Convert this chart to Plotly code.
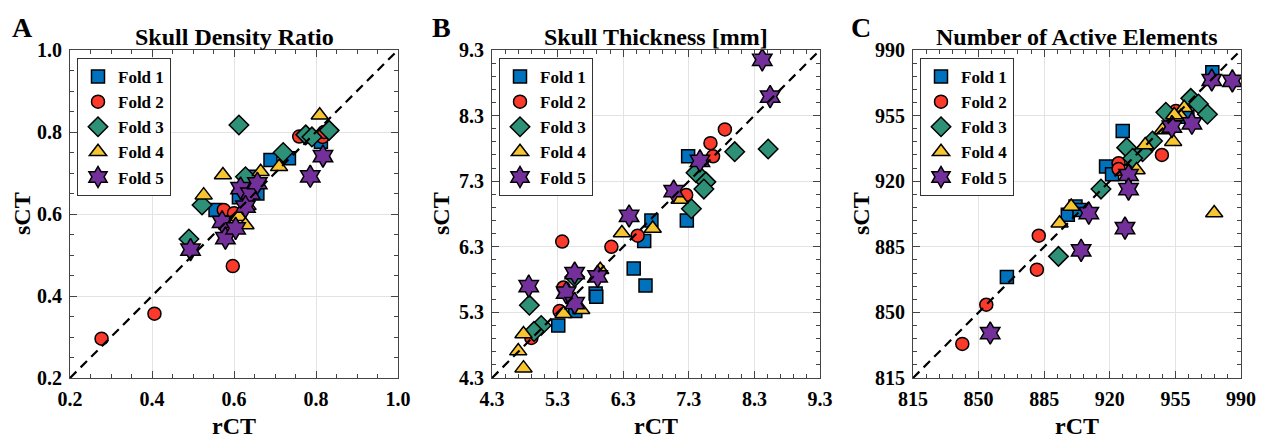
import plotly.graph_objects as go

W, H = 1270, 442
OFF = 8  # default page body margin offset

# ---------------- data ----------------
folds = ["Fold 1", "Fold 2", "Fold 3", "Fold 4", "Fold 5"]
colors = ["#0072BD", "#FB3A2C", "#2E9077", "#F7C531", "#74309A"]
symbols = ["square", "circle", "diamond", "triangle-up", "hexagram"]

# Panel A: Skull Density Ratio
sdr_f1_x = [0.555, 0.612, 0.644, 0.657, 0.689, 0.734, 0.812]
sdr_f1_y = [0.610, 0.641, 0.691, 0.650, 0.732, 0.736, 0.776]
sdr_f2_x = [0.277, 0.406, 0.597, 0.575, 0.600, 0.580, 0.759, 0.816, 0.820]
sdr_f2_y = [0.296, 0.357, 0.473, 0.610, 0.602, 0.570, 0.789, 0.788, 0.800]
sdr_f3_x = [0.612, 0.522, 0.490, 0.628, 0.720, 0.775, 0.790, 0.832]
sdr_f3_y = [0.817, 0.622, 0.539, 0.691, 0.750, 0.793, 0.788, 0.804]
sdr_f4_x = [0.809, 0.573, 0.526, 0.665, 0.710, 0.612, 0.628, 0.633]
sdr_f4_y = [0.841, 0.695, 0.646, 0.703, 0.715, 0.593, 0.573, 0.620]
sdr_f5_x = [0.494, 0.571, 0.579, 0.604, 0.616, 0.640, 0.628, 0.657, 0.786, 0.817]
sdr_f5_y = [0.513, 0.581, 0.541, 0.565, 0.663, 0.650, 0.618, 0.675, 0.692, 0.741]

# Panel B: Skull Thickness [mm]
st_f1_x = [7.29, 6.73, 7.27, 6.62, 6.46, 6.64, 5.88, 5.89, 5.57, 5.31]
st_f1_y = [7.68, 6.70, 6.70, 6.39, 5.97, 5.71, 5.59, 5.54, 5.32, 5.10]
st_f2_x = [7.85, 7.63, 7.67, 7.26, 6.52, 6.12, 5.37, 5.39, 5.33, 4.90]
st_f2_y = [8.09, 7.88, 7.68, 7.09, 6.47, 6.30, 6.38, 5.68, 5.32, 4.91]
st_f3_x = [8.51, 8.00, 7.41, 7.56, 7.53, 7.34, 4.87, 5.05, 4.94, 5.56]
st_f3_y = [7.79, 7.75, 7.43, 7.29, 7.18, 6.88, 5.41, 5.10, 5.01, 5.84]
st_f4_x = [7.16, 6.75, 6.28, 5.95, 5.66, 5.39, 4.78, 4.70, 4.78]
st_f4_y = [7.02, 6.58, 6.51, 5.95, 5.34, 5.28, 4.97, 4.71, 4.45]
st_f5_x = [8.42, 8.54, 7.47, 7.07, 6.39, 5.56, 5.91, 4.86, 5.43, 5.56]
st_f5_y = [9.15, 8.59, 7.61, 7.15, 6.77, 5.90, 5.85, 5.70, 5.60, 5.44]

# Panel C: Number of Active Elements
nae_f1_x = [974.7, 926.9, 918.0, 921.2, 901.7, 897.6, 903.8, 865.1, 961.4]
nae_f1_y = [978.1, 946.8, 927.8, 923.7, 906.5, 902.1, 904.7, 868.9, 954.4]
nae_f2_x = [955.3, 947.8, 924.7, 924.7, 882.1, 881.1, 854.1, 841.3]
nae_f2_y = [957.5, 934.0, 929.6, 926.5, 890.9, 872.8, 854.1, 833.2]
nae_f3_x = [963.2, 967.3, 972.1, 949.9, 942.8, 937.5, 929.0, 932.2, 915.3, 892.6]
nae_f3_y = [964.2, 961.2, 955.7, 956.8, 941.4, 935.7, 937.9, 932.2, 915.8, 879.9]
nae_f4_x = [975.7, 959.7, 957.9, 954.4, 948.1, 953.8, 938.9, 934.3, 899.4, 893.2]
nae_f4_y = [903.0, 959.2, 954.4, 955.3, 947.3, 941.1, 939.3, 926.0, 906.5, 897.6]
nae_f5_x = [974.4, 985.4, 953.1, 963.8, 930.0, 930.0, 908.8, 928.1, 904.7, 856.2]
nae_f5_y = [974.0, 973.5, 949.1, 950.9, 923.3, 915.8, 903.0, 895.0, 883.1, 839.0]

titles = ["Skull Density Ratio", "Skull Thickness [mm]", "Number of Active Elements"]
letters = ["A", "B", "C"]
x_label = "rCT"
y_label = "sCT"

sdr_ticks = [0.2, 0.4, 0.6, 0.8, 1.0]
st_ticks = [4.3, 5.3, 6.3, 7.3, 8.3, 9.3]
nae_ticks = [815, 850, 885, 920, 955, 990]

panels = [
    dict(xs=[sdr_f1_x, sdr_f2_x, sdr_f3_x, sdr_f4_x, sdr_f5_x],
         ys=[sdr_f1_y, sdr_f2_y, sdr_f3_y, sdr_f4_y, sdr_f5_y],
         ticks=sdr_ticks, minor=0.05, fmt=".1f"),
    dict(xs=[st_f1_x, st_f2_x, st_f3_x, st_f4_x, st_f5_x],
         ys=[st_f1_y, st_f2_y, st_f3_y, st_f4_y, st_f5_y],
         ticks=st_ticks, minor=0.2, fmt=".1f"),
    dict(xs=[nae_f1_x, nae_f2_x, nae_f3_x, nae_f4_x, nae_f5_x],
         ys=[nae_f1_y, nae_f2_y, nae_f3_y, nae_f4_y, nae_f5_y],
         ticks=nae_ticks, minor=7, fmt="d"),
]

# ---------------- layout geometry (screen pixels) ----------------
plot_left = [70, 492, 913]
plot_w = 328
plot_top, plot_bot = 50, 378
ylab_x = [22, 441, 861]
letter_x = [22, 441, 861]

FONT = "Liberation Serif"

def px(x):
    return (x - OFF) / W

def py(y):
    return 1 - (y - OFF) / H

fig = go.Figure()
layout = dict(
    width=W, height=H,
    margin=dict(l=0, r=0, t=0, b=0, pad=0, autoexpand=False),
    paper_bgcolor="white", plot_bgcolor="white",
    font=dict(family=FONT, size=20, color="black"),
    annotations=[],
)

for i, p in enumerate(panels):
    sfx = "" if i == 0 else str(i + 1)
    xa, ya = "x" + sfx, "y" + sfx
    leg = "legend" + sfx
    lo, hi = p["ticks"][0], p["ticks"][-1]
    for k in range(5):
        fig.add_trace(go.Scatter(
            x=p["xs"][k], y=p["ys"][k], mode="markers", name=folds[k],
            xaxis=xa, yaxis=ya, legend=leg,
            marker=dict(symbol=symbols[k], color=colors[k],
                        size=17 if k == 4 else (15 if k in (2, 3) else 13),
                        line=dict(color="black", width=1.5)),
        ))
    fig.add_trace(go.Scatter(
        x=[lo, hi], y=[lo, hi], mode="lines", xaxis=xa, yaxis=ya,
        line=dict(color="black", width=2.2, dash="9px,6px"),
        showlegend=False, hoverinfo="skip",
    ))
    axcommon = dict(
        range=[lo, hi], tickvals=p["ticks"], tickformat=p["fmt"],
        ticks="inside", ticklen=7, tickwidth=1, tickcolor="#444",
        showline=True, linecolor="#444", linewidth=1, mirror="ticks",
        showgrid=True, gridcolor="#e3e3e3", gridwidth=1, zeroline=False,
        tickfont=dict(family=FONT, size=20, weight="bold", color="black"),
        minor=dict(ticks="inside", ticklen=4, dtick=p["minor"], tick0=lo,
                   tickcolor="#444", showgrid=False),
        fixedrange=True, automargin=False,
    )
    layout["xaxis" + sfx] = dict(axcommon, anchor=ya,
                                 domain=[px(plot_left[i]), px(plot_left[i] + plot_w)],
                                 ticklabelstandoff=3)
    layout["yaxis" + sfx] = dict(axcommon, anchor=xa,
                                 domain=[py(plot_bot), py(plot_top)],
                                 ticklabelstandoff=3)
    layout[leg] = dict(
        x=px(plot_left[i] + 7), y=py(plot_top + 8), xanchor="left", yanchor="top",
        bgcolor="white", bordercolor="#333", borderwidth=1,
        font=dict(family=FONT, size=17, weight="bold", color="black"),
        itemwidth=30, tracegroupgap=0,
    )
    cx = plot_left[i] + plot_w / 2
    layout["annotations"] += [
        dict(text=titles[i], x=px(cx), y=py(37), xref="paper", yref="paper",
             showarrow=False, xanchor="center", yanchor="middle",
             font=dict(family=FONT, size=24, weight="bold", color="black")),
        dict(text=letters[i], x=px(letter_x[i]), y=py(10), xref="paper", yref="paper",
             showarrow=False, xanchor="center", yanchor="top",
             font=dict(family=FONT, size=28, weight="bold", color="black")),
        dict(text=x_label, x=px(cx), y=py(426), xref="paper", yref="paper",
             showarrow=False, xanchor="center", yanchor="middle",
             font=dict(family=FONT, size=24, weight="bold", color="black")),
        dict(text=y_label, x=px(ylab_x[i]), y=py((plot_top + plot_bot) / 2),
             xref="paper", yref="paper", textangle=-90,
             showarrow=False, xanchor="center", yanchor="middle",
             font=dict(family=FONT, size=24, weight="bold", color="black")),
    ]

fig.update_layout(**layout)
fig.write_html("out.html")
